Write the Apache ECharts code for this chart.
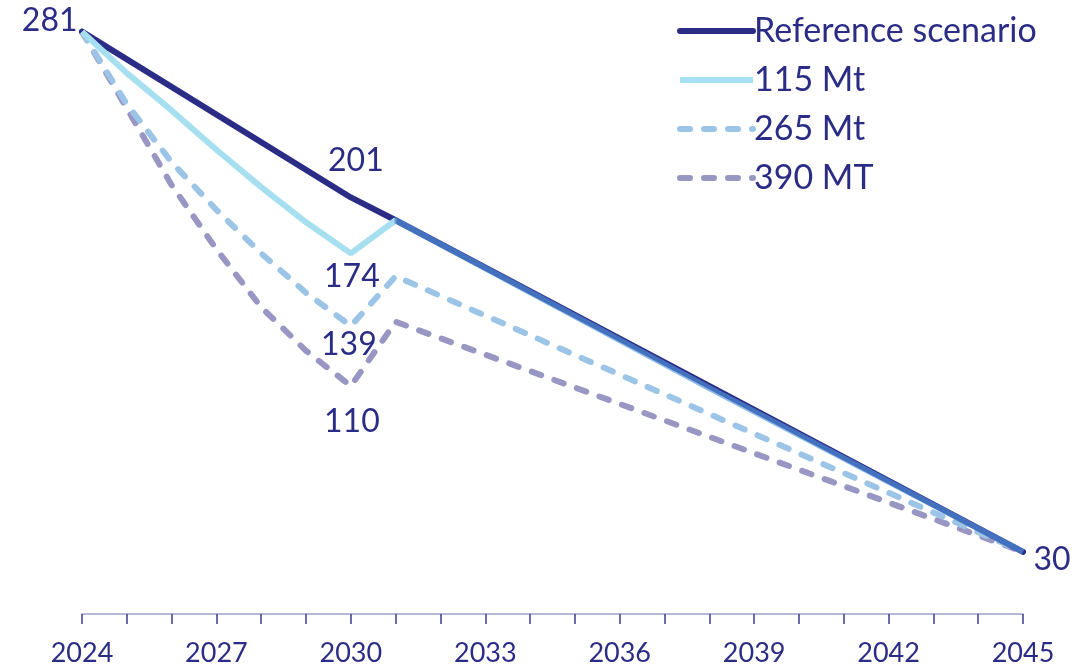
<!DOCTYPE html>
<html>
<head>
<meta charset="utf-8">
<script src="https://cdn.jsdelivr.net/npm/echarts@6/dist/echarts.min.js"></script>
<style>
  html, body { margin: 0; padding: 0; background: #fff; }
  #main { width: 1092px; height: 669px; }
</style>
</head>
<body>
<div id="main"></div>
<script>
// 数据
var years = ["2024", "2025", "2026", "2027", "2028", "2029", "2030", "2031", "2032", "2033", "2034",
  "2035", "2036", "2037", "2038", "2039", "2040", "2041", "2042", "2043", "2044", "2045"]
// null = 没有读数的年份（直线连接）
var refScenario = [281, null, null, null, null, null, 201, 190, null, null, null,
  null, null, null, null, null, null, null, null, null, null, 30]
var mt115 = [281, 261, 243, 224, 206, 189, 174, 190, null, null, null,
  null, null, null, 109, null, null, null, null, null, null, 30]
var mt265 = [281, 246, 218, 195, 174, 155, 139, 163, null, null, null,
  null, null, null, null, null, null, null, null, null, null, 30]
var mt390 = [281, 244, 207, 176, 148, 127, 110, 141, null, null, null,
  null, null, null, null, null, null, null, null, null, null, 30]

var navy = "#2B2C86"
var lightBlue = "#A6DFEF"
var font = "Lato"

// 给指定点加标签
function withLabels(arr, labels) {
  return arr.map(function (v, i) {
    if (labels[i]) {
      return { value: v, label: Object.assign({ show: true, color: navy, fontSize: 32, fontFamily: font }, labels[i]) }
    }
    return v
  })
}

var chartDom = document.getElementById("main")
var myChart = echarts.init(chartDom)
var option = {
  animation: false,
  grid: { left: 82, right: 69, top: 13, bottom: 55 },
  legend: {
    orient: "vertical",
    left: 672,
    top: 8,
    itemWidth: 73,
    itemHeight: 14,
    itemGap: 13,
    lineStyle: { width: "inherit" },
    textStyle: { color: navy, fontSize: 34, fontFamily: font, lineHeight: 36, padding: [0, 0, 0, -4] },
    data: [
      "Reference scenario",
      { name: "115 Mt", lineStyle: { color: lightBlue, width: 6 } },
      "265 Mt",
      "390 MT"
    ]
  },
  xAxis: {
    type: "category",
    data: years,
    boundaryGap: false,
    axisLine: { lineStyle: { color: "#9FA1CC", width: 1.5 } },
    axisTick: { show: true, interval: 0, length: 10, lineStyle: { color: "#3B3D8F", width: 1.5 } },
    axisLabel: { interval: 2, color: navy, fontSize: 27, fontFamily: font, margin: 26 },
    splitLine: { show: false }
  },
  yAxis: {
    type: "value",
    min: 0,
    max: 290,
    show: false,
    splitLine: { show: false }
  },
  series: [
    {
      name: "Reference scenario",
      type: "line",
      connectNulls: true,
      symbol: "circle",
      symbolSize: 1,
      itemStyle: { color: "rgba(0,0,0,0)" },
      lineStyle: { color: navy, width: 6, cap: "round" },
      z: 3,
      data: withLabels(refScenario, {
        0: { position: "left", distance: 4, offset: [0, -11] },
        6: { position: "top", distance: 20, offset: [5, 0] },
        21: { position: "right", distance: 10, offset: [0, 8] }
      })
    },
    {
      name: "115 Mt",
      type: "line",
      connectNulls: true,
      symbol: "circle",
      symbolSize: 1,
      itemStyle: { color: "rgba(0,0,0,0)" },
      lineStyle: {
        width: 6,
        // 2031年后与参考线重叠，呈半透明
        color: new echarts.graphic.LinearGradient(0, 0, 1, 0, [
          { offset: 0, color: lightBlue },
          { offset: 0.332, color: lightBlue },
          { offset: 0.336, color: "rgba(80,150,220,0.65)" },
          { offset: 1, color: "rgba(80,150,220,0.65)" }
        ])
      },
      z: 4,
      data: withLabels(mt115, {
        6: { position: "bottom", distance: 7, offset: [1, 0] }
      })
    },
    {
      name: "265 Mt",
      type: "line",
      connectNulls: true,
      symbol: "circle",
      symbolSize: 1,
      itemStyle: { color: "rgba(0,0,0,0)" },
      lineStyle: { color: "#9CC4E6", width: 6, type: [10, 14], cap: "round" },
      z: 2,
      data: withLabels(mt265, {
        6: { position: "bottom", distance: 0, offset: [-2, 2] }
      })
    },
    {
      name: "390 MT",
      type: "line",
      connectNulls: true,
      symbol: "circle",
      symbolSize: 1,
      itemStyle: { color: "rgba(0,0,0,0)" },
      lineStyle: { color: "#9897C4", width: 6, type: [10, 14], cap: "round" },
      z: 1,
      data: withLabels(mt390, {
        6: { position: "bottom", distance: 19, offset: [1, 0] }
      })
    }
  ]
}

option && myChart.setOption(option)
window.addEventListener("resize", function () {
  myChart.resize()
})
</script>
</body>
</html>
